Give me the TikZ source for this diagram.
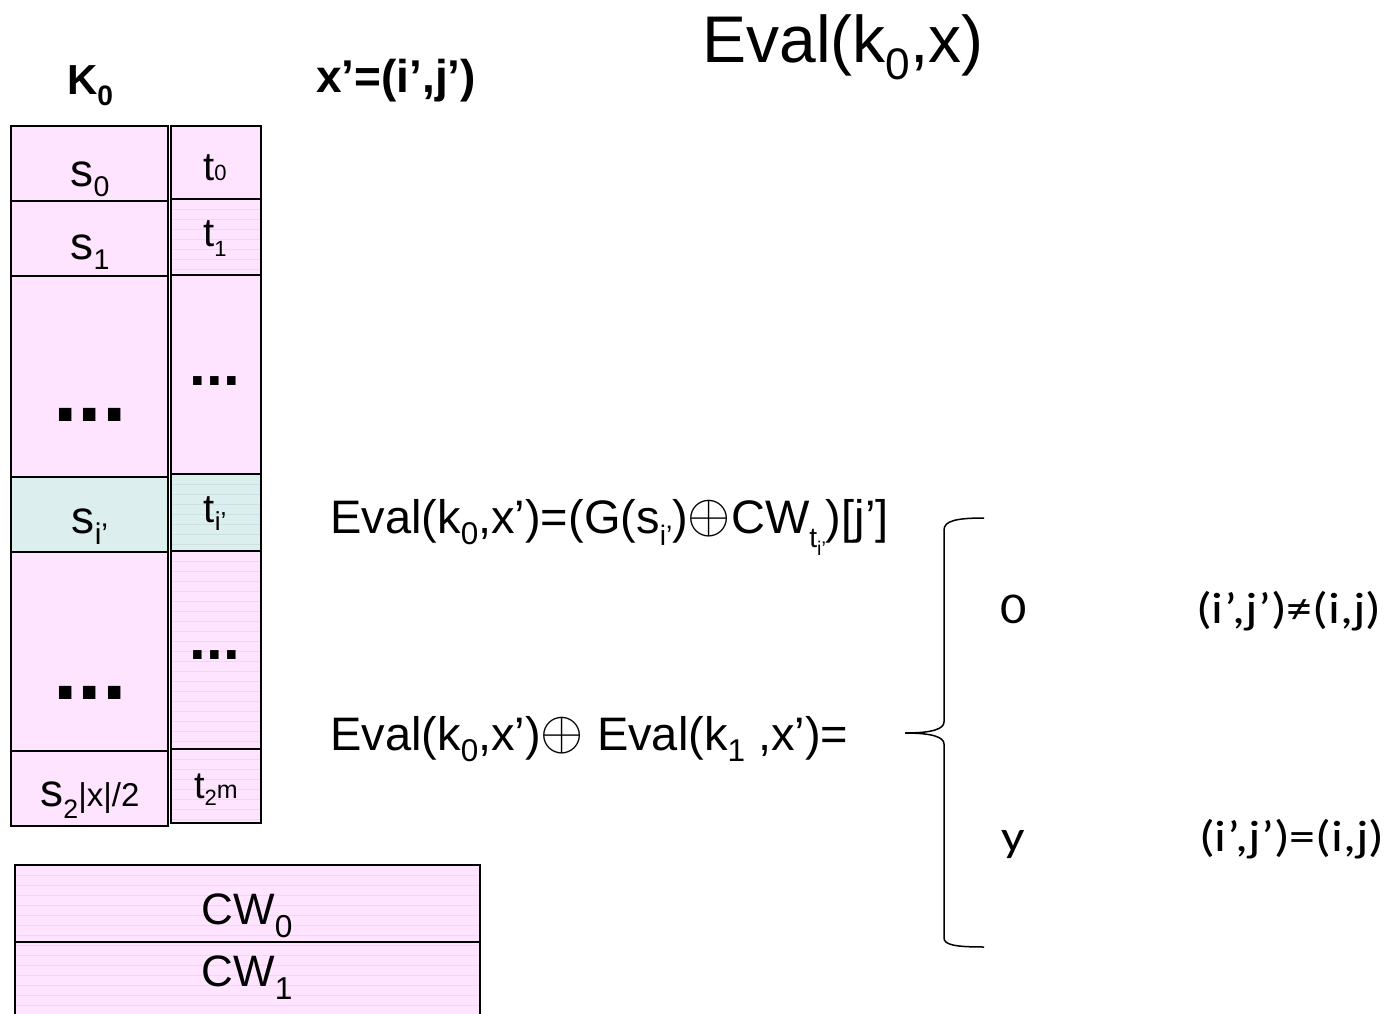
\RequirePackage{fix-cm}
\documentclass[tikz,border=0pt]{standalone}
\usepackage{fontspec}
\usepackage{graphicx}
\setmainfont{Liberation Sans}
\newfontfamily\carl{Carlito}
\newcommand\fs[1]{\fontsize{#1}{#1}\selectfont}
% lowered, scaled subscript: \dn{shift}{scale}{text}
\newcommand\dn[3]{\raisebox{#1}{\scalebox{#2}{#3}}}
% thin circled plus at text size
\newcommand\xorop{\raisebox{0.02em}{\scalebox{1.18}{$\oplus$}}}
% widened Carlito text for the case table
\newcommand\wide[1]{\scalebox{1.18}[1]{#1}}
\definecolor{cellpink}{HTML}{FFE4FF}
\definecolor{cellteal}{HTML}{DDEEEE}
\definecolor{rulepink}{HTML}{F6D2F6}
\definecolor{ruleteal}{HTML}{C9E3E3}
\tikzset{
  cell/.style={draw=black, line width=1.6pt},
  pinkcell/.style={cell, fill=cellpink},
  tealcell/.style={cell, fill=cellteal},
  lbl/.style={inner sep=0pt, anchor=base},
  brace/.style={draw=black, line width=1.5pt},
  rule/.style={line width=0.6pt},
}
\begin{document}
\begin{tikzpicture}[x=1pt,y=-1pt]
\useasboundingbox (0,0) rectangle (1387,1014);
\clip (0,0) rectangle (1387,1014);

% ---- key column s ----
\path[pinkcell] (11,126) rectangle (168,201);
\path[pinkcell] (11,201) rectangle (168,276);
\path[pinkcell] (11,276) rectangle (168,477);
\path[tealcell] (11,477) rectangle (168,552);
\path[pinkcell] (11,552) rectangle (168,751);
\path[pinkcell] (11,751) rectangle (168,826);

% ---- key column t ----
\path[pinkcell] (171,126) rectangle (261,199);
\path[fill=cellpink] (171,199) rectangle (261,275);
\foreach \yy in {209,219,...,269} \draw[rule, rulepink] (172,\yy) -- (260,\yy);
\path[cell] (171,199) rectangle (261,275);
\path[pinkcell] (171,275) rectangle (261,474);
\path[fill=cellteal] (171,474) rectangle (261,551);
\foreach \yy in {484,494,...,544} \draw[rule, ruleteal] (172,\yy) -- (260,\yy);
\path[cell] (171,474) rectangle (261,551);
\path[fill=cellpink] (171,551) rectangle (261,749);
\foreach \yy in {561,571,...,741} \draw[rule, rulepink] (172,\yy) -- (260,\yy);
\path[cell] (171,551) rectangle (261,749);
\path[fill=cellpink] (171,749) rectangle (261,823);
\foreach \yy in {759,769,...,819} \draw[rule, rulepink] (172,\yy) -- (260,\yy);
\path[cell] (171,749) rectangle (261,823);

% ---- correction words ----
\path[fill=cellpink] (15,865) rectangle (480,1020);
\foreach \yy in {875,885,...,1015} \draw[rule, rulepink] (16,\yy) -- (479,\yy);
\draw[line width=1.6pt] (15,1020) -- (15,865) -- (480,865) -- (480,1020);
\draw[line width=1.6pt] (15,942) -- (480,942);

% ---- cell labels ----
\node[lbl] (ls0) at (90,186) {\fs{46}s\dn{-0.22em}{0.62}{0}};
\node[lbl] (lt0) at (215,180) {\fs{40}t\dn{0em}{0.55}{0}};
\node[lbl] (ls1) at (90,259) {\fs{46}s\dn{-0.22em}{0.62}{1}};
\node[lbl] (lt1) at (215,246) {\fs{40}t\dn{-0.25em}{0.55}{1}};
\node[lbl] (lsd1) at (90,421) {\fs{88}\bfseries ...};
\node[lbl] (ltd1) at (215,385) {\fs{60}\bfseries ...};
\node[lbl] (lsi) at (90,533) {\fs{46}s\dn{-0.25em}{0.65}{i’}};
\node[lbl] (lti) at (215,522) {\fs{40}t\dn{-0.2em}{0.65}{i’}};
\node[lbl] (lsd2) at (90,699) {\fs{88}\bfseries ...};
\node[lbl] (ltd2) at (215,659) {\fs{60}\bfseries ...};
\node[lbl] (lsn) at (90,806) {\fs{46}s\dn{-0.28em}{0.58}{2}{\fs{33}|x|/2}};
\node[lbl] (ltn) at (216,798) {\fs{38}t\dn{-0.2em}{0.58}{2}{\fs{25}m}};
\node[lbl] (lcw0) at (247,924) {\fs{44}CW\dn{-0.3em}{0.72}{0}};
\node[lbl] (lcw1) at (247,986) {\fs{44}CW\dn{-0.3em}{0.72}{1}};

% ---- headings ----
\node[lbl] (hk) at (90,95) {\fs{42}\bfseries K\dn{-0.25em}{0.67}{0}};
\node[lbl] (hx) at (396,93) {\fs{46}\bfseries x’=(i’,j’)};
\node[lbl] (he) at (843,63) {\fs{66}Eval(k\dn{-0.25em}{0.67}{0},x)};

% ---- formulas ----
\node[lbl, anchor=base west] (f1) at (330,533)
  {\fs{47}Eval(k\dn{-0.25em}{0.67}{0},x’)=(G(s\dn{-0.27em}{0.6}{i’})\xorop CW\dn{-0.3em}{0.6}{t\dn{-0.3em}{0.7}{i’}})[j’]};
\node[lbl, anchor=base west] (f2) at (330,750)
  {\fs{47}Eval(k\dn{-0.25em}{0.67}{0},x’)\xorop{} Eval(k\dn{-0.25em}{0.67}{1} ,x’)=};

% ---- cases brace ----
\coordinate (btop) at (984,518);
\coordinate (btip) at (905,733);
\coordinate (bbot) at (984,947);
\draw[brace] (btop) .. controls (956,518) and (944,521) .. (944,530)
  -- (944,722) .. controls (944,729) and (932,733) .. (btip)
  .. controls (932,733) and (944,737) .. (944,744)
  -- (944,938) .. controls (944,945) and (956,947) .. (bbot);

% ---- cases ----
\node[lbl] (c0) at (1014,623) {\carl\fs{44}\wide{0}};
\node[lbl, anchor=base west] (c0w) at (1196,623) {\carl\fs{44}\wide{(i’,j’)≠(i,j)}};
\node[lbl] (cy) at (1013,851) {\carl\fs{44}\wide{y}};
\node[lbl, anchor=base west] (cyw) at (1199,851) {\carl\fs{44}\wide{(i’,j’)=(i,j)}};
\end{tikzpicture}
\end{document}
